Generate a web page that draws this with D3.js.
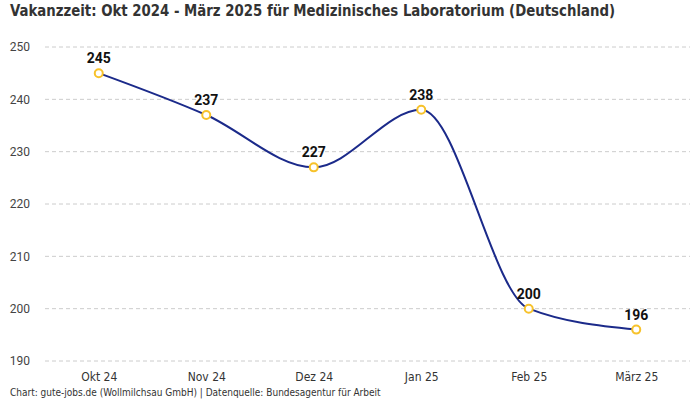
<!DOCTYPE html>
<html lang="de">
<head>
<meta charset="UTF-8">
<title>Vakanzzeit</title>
<script src="https://cdn.jsdelivr.net/npm/d3@7"></script>
<style>
  body { margin: 0; background: #fff; }
  text { font-family: "DejaVu Sans Condensed", "Liberation Sans Narrow", sans-serif; }
</style>
</head>
<body>
<div id="chart"></div>
<script>
// Monate und Vakanzzeit in Tagen
var months = ["Okt 24", "Nov 24", "Dez 24", "Jan 25", "Feb 25", "März 25"];
var values = [245, 237, 227, 238, 200, 196];
var yTicks = [190, 200, 210, 220, 230, 240, 250];

var width = 700, height = 400;
var margin = {top: 47, right: 10, bottom: 39, left: 45};

var svg = d3.select("#chart").append("svg")
    .attr("width", width)
    .attr("height", height);

var x = d3.scalePoint()
    .domain(months)
    .range([margin.left, width - margin.right])
    .padding(0.5);

var y = d3.scaleLinear()
    .domain([190, 250])
    .range([height - margin.bottom, margin.top]);

// gridlines
svg.append("g")
    .selectAll("line")
    .data(yTicks)
    .enter()
    .append("line")
    .attr("x1", margin.left)
    .attr("x2", width - margin.right)
    .attr("y1", function(d){ return y(d); })
    .attr("y2", function(d){ return y(d); })
    .attr("stroke", "#cccccc")
    .attr("stroke-dasharray", "4,3");

// y axis labels
var yAxis = svg.append("g")
    .attr("transform", "translate(" + (margin.left - 15) + ",0)")
    .call(d3.axisLeft(y).tickValues(yTicks).tickSize(0).tickPadding(0));
yAxis.select(".domain").remove();
yAxis.selectAll("text")
    .style("font-family", "Roboto, sans-serif")
    .style("font-size", "12px")
    .attr("fill", "#444");

// x axis labels
var xAxis = svg.append("g")
    .attr("transform", "translate(0," + (height - margin.bottom + 11) + ")")
    .call(d3.axisBottom(x).tickSize(0).tickPadding(0));
xAxis.select(".domain").remove();
xAxis.selectAll("text")
    .style("font-size", "12px")
    .attr("fill", "#333");

var data = months.map(function(m, i){ return {month: m, value: values[i]}; });

var line = d3.line()
    .x(function(d){ return x(d.month); })
    .y(function(d){ return y(d.value); })
    .curve(d3.curveMonotoneX);

svg.append("path")
    .datum(data)
    .attr("d", line)
    .attr("fill", "none")
    .attr("stroke", "#1b2a8a")
    .attr("stroke-width", 2);

svg.append("g")
    .selectAll("circle")
    .data(data)
    .enter()
    .append("circle")
    .attr("cx", function(d){ return x(d.month); })
    .attr("cy", function(d){ return y(d.value); })
    .attr("r", 4)
    .attr("fill", "#fff")
    .attr("stroke", "#f7c22b")
    .attr("stroke-width", 2);

svg.append("g")
    .selectAll("text")
    .data(data)
    .enter()
    .append("text")
    .attr("x", function(d){ return x(d.month); })
    .attr("y", function(d){ return y(d.value) - 10; })
    .attr("text-anchor", "middle")
    .style("font-family", "Roboto, sans-serif")
    .style("font-size", "14px")
    .style("font-weight", "bold")
    .attr("fill", "#111")
    .text(function(d){ return d.value; });

// title
svg.append("text")
    .attr("x", 10)
    .attr("y", 16)
    .attr("textLength", 605)
    .attr("lengthAdjust", "spacingAndGlyphs")
    .style("font-size", "16px")
    .style("font-weight", "bold")
    .attr("fill", "#333")
    .text("Vakanzzeit: Okt 2024 - März 2025 für Medizinisches Laboratorium (Deutschland)");

// footer
svg.append("text")
    .attr("x", 10)
    .attr("y", 396)
    .style("font-size", "10px")
    .attr("fill", "#333")
    .text("Chart: gute-jobs.de (Wollmilchsau GmbH) | Datenquelle: Bundesagentur für Arbeit");
</script>
</body>
</html>
